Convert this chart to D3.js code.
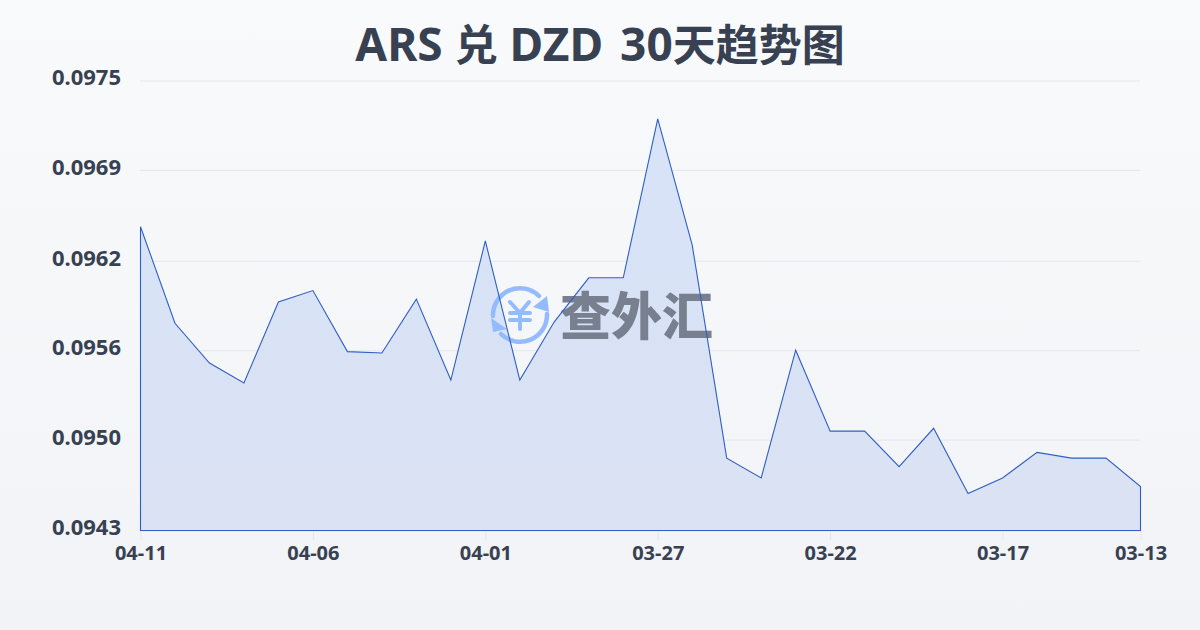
<!DOCTYPE html>
<html><head><meta charset="utf-8">
<script src="https://cdn.jsdelivr.net/npm/d3@7/dist/d3.min.js"></script>
<style>html,body{margin:0;padding:0;width:1200px;height:630px;overflow:hidden}svg{display:block}</style>
</head><body><svg id="c" width="1200" height="630"></svg>
<script>
const titleParts = ["ARS ","兑"," DZD ","30","天趋势图"];
const dates = ["04-11","04-10","04-09","04-08","04-07","04-06","04-05","04-04","04-03","04-02","04-01","03-31","03-30","03-29","03-28","03-27","03-26","03-25","03-24","03-23","03-22","03-21","03-20","03-19","03-18","03-17","03-16","03-15","03-14","03-13"];
const rates = [0.09647,0.09579,0.09551,0.09537,0.09594,0.09602,0.09559,0.09558,0.09596,0.09539,0.09637,0.09539,0.09580,0.09611,0.09611,0.09723,0.09634,0.09484,0.09470,0.09560,0.09503,0.09503,0.09478,0.09505,0.09459,0.09470,0.09488,0.09484,0.09484,0.09464];
const xTickLabels = ["04-11","04-06","04-01","03-27","03-22","03-17","03-13"];
const yDomain = [0.09433,0.0975];
const yTickValues = [0.0975,0.09687,0.09623,0.0956,0.09497,0.09433];

const svg = d3.select("#c");
const defs = svg.append("defs");
const bg = defs.append("linearGradient").attr("id","bg").attr("x1",0).attr("y1",0).attr("x2",0).attr("y2",1);
bg.append("stop").attr("offset",0).attr("stop-color","#f8fafc");
bg.append("stop").attr("offset",1).attr("stop-color","#f1f3f6");
const ag = defs.append("linearGradient").attr("id","ag").attr("x1",0).attr("y1",0).attr("x2",0).attr("y2",1);
ag.append("stop").attr("offset",0).attr("stop-color","#d6e2f8");
ag.append("stop").attr("offset",1).attr("stop-color","#d9e1f3");
svg.append("rect").attr("width",1200).attr("height",630).attr("fill","url(#bg)");

const font = "'Noto Sans','Noto Sans CJK SC',sans-serif";
const cjk = "'Noto Sans CJK SC',sans-serif";
const ink = "#374151";
const x = d3.scalePoint().domain(dates).range([140.5,1140.5]);
const y = d3.scaleLinear().domain(yDomain).range([530.5,80.5]);

const isCjk = d => /[\u4e00-\u9fff]/.test(d);
const title = svg.append("text").attr("x",600).attr("y",61).attr("text-anchor","middle").style("white-space","pre")
  .attr("font-weight",700).attr("fill",ink);
title.selectAll("tspan").data(titleParts).join("tspan")
  .attr("font-family",d=>isCjk(d)?cjk:font).attr("font-size",d=>isCjk(d)?43:46)
  .attr("dx",d=>d==="30"?5:0).text(d=>d);

const yAxis = d3.axisLeft(y).tickValues(yTickValues).tickSize(0).tickFormat(d3.format(".4f"));
const gy = svg.append("g").call(yAxis).attr("transform","translate(140,0)");
gy.select(".domain").remove();
gy.selectAll("line").attr("x2",1000).attr("stroke","#e5e7eb").attr("stroke-width",1);
gy.selectAll("text").attr("x",-19).attr("dy","0.2em").attr("font-family",font).attr("font-weight",700).attr("font-size",22).attr("fill",ink);

const xAxis = d3.axisBottom(x).tickValues(xTickLabels).tickSize(10).tickPadding(6);
const gx = svg.append("g").attr("transform","translate(0,530)").call(xAxis);
gx.select(".domain").remove();
gx.selectAll("line").attr("stroke","#e5e7eb");
gx.selectAll("text").attr("font-family",font).attr("font-weight",700).attr("font-size",20).attr("fill",ink);

const area = d3.area().x(d=>x(d.d)).y0(530.5).y1(d=>y(d.v));
const pts = dates.map((d,i)=>({d,v:rates[i]}));
svg.append("path").datum(pts).attr("d",area).attr("fill","url(#ag)").attr("fill-opacity",0.95);

// watermark
const wm = svg.append("g");
const blue = "#93bbfd";
const ic = wm.append("g").attr("transform","translate(520,315)").attr("fill","none").attr("stroke",blue).attr("stroke-linecap","round");
ic.append("path").attr("stroke-width",4.5).attr("d","M-27,1 A27,27 0 0 1 19,-19");
ic.append("path").attr("stroke-width",4.5).attr("d","M27,-1 A27,27 0 0 1 -19,19");
ic.append("path").attr("fill",blue).attr("stroke","none").attr("d","M27,-19 L29,-3 L13,-8 Z");
ic.append("path").attr("fill",blue).attr("stroke","none").attr("d","M-29,3 L-13,14 L-27,17 Z");
ic.append("path").attr("stroke-width",4).attr("d","M-10,-13 L0,-2 L9,-13 M-10,-2 H10 M-10,5 H10 M0,-2 V14");
wm.append("text").attr("x",560).attr("y",335).attr("font-family",cjk).attr("font-weight",900).attr("font-size",51).attr("fill","#78808f").text("查外汇");

svg.append("path").datum(pts).attr("d",area).attr("fill","none").attr("stroke","#2f5fc4").attr("stroke-width",1.1);
</script></body></html>
